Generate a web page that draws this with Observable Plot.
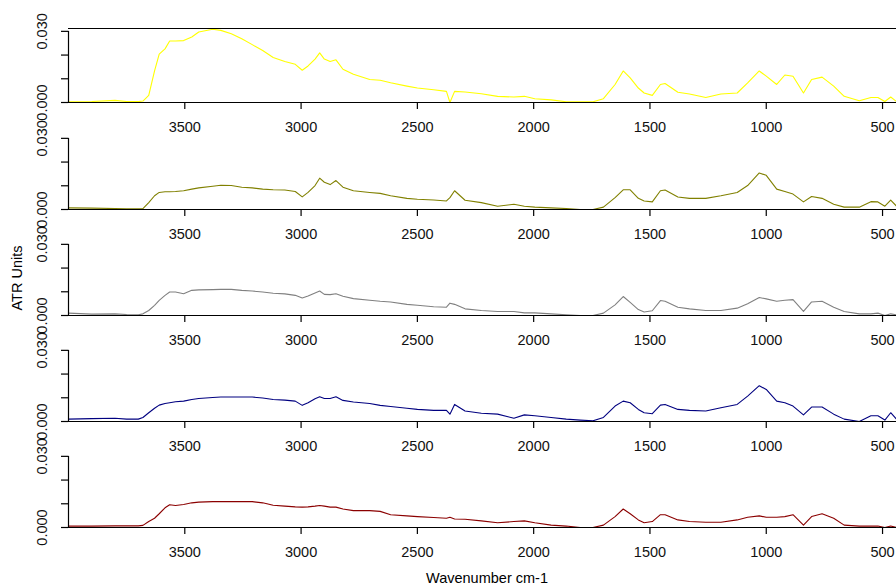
<!DOCTYPE html>
<html>
<head>
<meta charset="utf-8">
<script src="https://cdn.jsdelivr.net/npm/d3@7"></script>
<script src="https://cdn.jsdelivr.net/npm/@observablehq/plot@0.6"></script>
<style>
  html, body { margin: 0; padding: 0; background: #fff; }
  #wrap { position: relative; width: 896px; height: 585px; overflow: hidden; font-family: "Liberation Sans", Arial, sans-serif; }
  #wrap svg { position: absolute; left: 0; }
  .lab { position: absolute; font-size: 14.5px; color: #000; white-space: nowrap; }
</style>
</head>
<body>
<div id="wrap"></div>
<script>
// Wavenumbers (cm-1), shared by all spectra
const wavenumber = [4000, 3900, 3800, 3750, 3700, 3680, 3655, 3630, 3610, 3585, 3565, 3540, 3505, 3470, 3440, 3380, 3345, 3300, 3255, 3210, 3165, 3120, 3070, 3025, 2995, 2970, 2940, 2920, 2900, 2875, 2850, 2820, 2775, 2705, 2660, 2615, 2545, 2500, 2430, 2375, 2360, 2340, 2295, 2225, 2155, 2085, 2040, 1995, 1925, 1860, 1800, 1745, 1700, 1650, 1615, 1585, 1550, 1525, 1490, 1455, 1435, 1380, 1330, 1260, 1195, 1125, 1080, 1030, 1000, 955, 920, 885, 840, 805, 760, 710, 665, 600, 550, 520, 490, 465, 440];

const spectrumYellow = [0.0003, 0.0004, 0.0009, 0.0004, 0.0004, 0.0006, 0.0030, 0.0133, 0.0204, 0.0226, 0.0259, 0.0259, 0.0261, 0.0276, 0.0297, 0.0309, 0.0304, 0.0290, 0.0269, 0.0244, 0.0219, 0.0190, 0.0173, 0.0161, 0.0136, 0.0154, 0.0183, 0.0209, 0.0183, 0.0173, 0.0180, 0.0140, 0.0119, 0.0097, 0.0094, 0.0083, 0.0069, 0.0061, 0.0054, 0.0047, 0.0000, 0.0047, 0.0044, 0.0037, 0.0026, 0.0023, 0.0026, 0.0016, 0.0011, 0.0003, 0.0003, 0.0003, 0.0016, 0.0076, 0.0133, 0.0104, 0.0061, 0.0040, 0.0030, 0.0076, 0.0080, 0.0043, 0.0036, 0.0021, 0.0036, 0.0040, 0.0083, 0.0133, 0.0111, 0.0076, 0.0116, 0.0111, 0.0040, 0.0097, 0.0107, 0.0069, 0.0026, 0.0007, 0.0021, 0.0021, 0.0004, 0.0023, 0.0004];

const spectrumOlive = [0.0007, 0.0006, 0.0004, 0.0003, 0.0003, 0.0004, 0.0029, 0.0058, 0.0072, 0.0075, 0.0075, 0.0076, 0.0079, 0.0086, 0.0091, 0.0098, 0.0102, 0.0101, 0.0094, 0.0091, 0.0086, 0.0083, 0.0082, 0.0076, 0.0053, 0.0072, 0.0101, 0.0132, 0.0115, 0.0105, 0.0122, 0.0094, 0.0079, 0.0072, 0.0068, 0.0058, 0.0047, 0.0043, 0.0040, 0.0036, 0.0050, 0.0079, 0.0039, 0.0029, 0.0014, 0.0022, 0.0014, 0.0010, 0.0007, 0.0004, 0.0000, 0.0000, 0.0010, 0.0050, 0.0083, 0.0083, 0.0047, 0.0036, 0.0032, 0.0079, 0.0082, 0.0053, 0.0047, 0.0047, 0.0058, 0.0072, 0.0101, 0.0154, 0.0144, 0.0086, 0.0076, 0.0065, 0.0032, 0.0055, 0.0047, 0.0022, 0.0010, 0.0010, 0.0033, 0.0032, 0.0014, 0.0040, 0.0014];

const spectrumGray = [0.0010, 0.0006, 0.0007, 0.0004, 0.0003, 0.0007, 0.0021, 0.0043, 0.0064, 0.0085, 0.0099, 0.0099, 0.0092, 0.0106, 0.0108, 0.0109, 0.0110, 0.0110, 0.0106, 0.0103, 0.0099, 0.0094, 0.0091, 0.0085, 0.0074, 0.0082, 0.0095, 0.0103, 0.0089, 0.0088, 0.0092, 0.0081, 0.0071, 0.0064, 0.0060, 0.0057, 0.0047, 0.0043, 0.0037, 0.0035, 0.0052, 0.0047, 0.0028, 0.0021, 0.0017, 0.0017, 0.0011, 0.0011, 0.0007, 0.0003, 0.0000, 0.0000, 0.0010, 0.0045, 0.0080, 0.0055, 0.0025, 0.0015, 0.0020, 0.0063, 0.0060, 0.0035, 0.0028, 0.0021, 0.0021, 0.0031, 0.0050, 0.0076, 0.0070, 0.0060, 0.0064, 0.0067, 0.0017, 0.0057, 0.0060, 0.0035, 0.0017, 0.0007, 0.0007, 0.0010, 0.0000, 0.0007, 0.0003];

const spectrumNavy = [0.0010, 0.0012, 0.0014, 0.0010, 0.0010, 0.0017, 0.0037, 0.0056, 0.0069, 0.0076, 0.0079, 0.0083, 0.0086, 0.0093, 0.0097, 0.0101, 0.0103, 0.0103, 0.0103, 0.0103, 0.0099, 0.0093, 0.0090, 0.0086, 0.0068, 0.0079, 0.0096, 0.0104, 0.0097, 0.0097, 0.0104, 0.0089, 0.0082, 0.0076, 0.0068, 0.0063, 0.0056, 0.0051, 0.0047, 0.0047, 0.0031, 0.0072, 0.0044, 0.0035, 0.0031, 0.0014, 0.0028, 0.0024, 0.0017, 0.0010, 0.0006, 0.0003, 0.0017, 0.0065, 0.0086, 0.0079, 0.0051, 0.0037, 0.0033, 0.0069, 0.0072, 0.0051, 0.0047, 0.0044, 0.0058, 0.0072, 0.0107, 0.0151, 0.0135, 0.0086, 0.0079, 0.0065, 0.0028, 0.0061, 0.0061, 0.0031, 0.0010, 0.0000, 0.0024, 0.0024, 0.0006, 0.0037, 0.0010];

const spectrumDarkRed = [0.0006, 0.0006, 0.0007, 0.0007, 0.0007, 0.0009, 0.0025, 0.0039, 0.0058, 0.0083, 0.0096, 0.0093, 0.0097, 0.0104, 0.0107, 0.0109, 0.0109, 0.0109, 0.0109, 0.0109, 0.0104, 0.0094, 0.0090, 0.0087, 0.0086, 0.0087, 0.0090, 0.0093, 0.0090, 0.0086, 0.0086, 0.0078, 0.0071, 0.0071, 0.0068, 0.0054, 0.0049, 0.0046, 0.0042, 0.0039, 0.0043, 0.0036, 0.0035, 0.0028, 0.0020, 0.0025, 0.0028, 0.0020, 0.0010, 0.0006, 0.0000, 0.0000, 0.0010, 0.0046, 0.0078, 0.0058, 0.0032, 0.0020, 0.0025, 0.0054, 0.0054, 0.0032, 0.0025, 0.0022, 0.0022, 0.0032, 0.0043, 0.0049, 0.0043, 0.0043, 0.0046, 0.0054, 0.0010, 0.0046, 0.0058, 0.0039, 0.0010, 0.0006, 0.0006, 0.0006, 0.0000, 0.0006, 0.0000];

const seriesValues = [spectrumYellow, spectrumOlive, spectrumGray, spectrumNavy, spectrumDarkRed];
const seriesColors = ["#ffff00", "#808000", "#808080", "#000080", "#8b0000"];

const xTicks = [3500, 3000, 2500, 2000, 1500, 1000, 500];
const yTicks = [0, 0.01, 0.02, 0.03];
const yLabelled = [0, 0.03];
const xDomain = [4000, 440];
const yDomain = [0, 0.0312];

const yAxisLabel = "ATR Units";
const xAxisLabel = "Wavenumber cm-1";

const wrap = document.getElementById("wrap");
const panelTops = [24, 131, 237, 343, 449];

seriesValues.forEach((vals, i) => {
  const data = wavenumber.map((w, j) => ({wn: w, v: vals[j]}));
  const marks = [
    Plot.line(data, {x: "wn", y: "v", stroke: seriesColors[i], strokeWidth: 1.1, clip: true}),
    Plot.ruleY([0], {stroke: "#000", strokeWidth: 1.2}),
    Plot.ruleX([xDomain[0]], {y1: 0, y2: 0.03, stroke: "#000", strokeWidth: 1.2}),
    Plot.axisX({ticks: xTicks, tickSize: 7, tickPadding: 12, label: null, tickFormat: d => String(d),
      stroke: "#000", strokeWidth: 1.2, strokeOpacity: 1, fill: "#111"}),
    // y tick marks
    Plot.axisY({ticks: yTicks, tickSize: 7, label: null, tickFormat: () => "",
      stroke: "#000", strokeWidth: 1.2, strokeOpacity: 1}),
    // y tick labels (rotated, only 0 and 0.03)
    Plot.axisY({ticks: yLabelled, tickSize: 0, tickPadding: 26, label: null, rotate: -90, textAnchor: "middle",
      tickFormat: d => d.toFixed(3), fill: "#111"})
  ];
  if (i === 0) marks.push(Plot.ruleY([yDomain[1]], {stroke: "#000", strokeWidth: 1.2}));
  const svg = Plot.plot({
    width: 896,
    height: 114,
    marginLeft: 68,
    marginRight: 0,
    marginTop: 4,
    marginBottom: 36,
    style: {background: "transparent", overflow: "visible", fontFamily: "'Liberation Sans', Arial, sans-serif", fontSize: "14.5px", color: "#000"},
    x: {domain: xDomain, label: null},
    y: {domain: yDomain, label: null},
    marks
  });
  svg.style.top = panelTops[i] + "px";
  wrap.appendChild(svg);
});

const yl = document.createElement("div");
yl.className = "lab";
yl.textContent = yAxisLabel;
yl.style.left = "17px";
yl.style.top = "278px";
yl.style.transform = "translate(-50%, -50%) rotate(-90deg)";
wrap.appendChild(yl);

const xl = document.createElement("div");
xl.className = "lab";
xl.textContent = xAxisLabel;
xl.style.left = "487px";
xl.style.top = "578px";
xl.style.transform = "translate(-50%, -50%)";
wrap.appendChild(xl);
</script>
</body>
</html>
